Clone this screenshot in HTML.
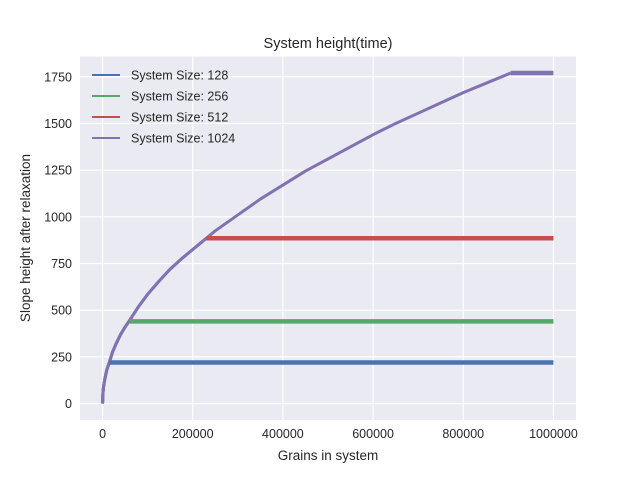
<!DOCTYPE html>
<html><head><meta charset="utf-8"><style>
body{margin:0;background:#fff;}
svg{font-family:"Liberation Sans",Arial,sans-serif;}
</style></head><body>
<svg id="chart" width="640" height="472" viewBox="0 0 640 472" xmlns="http://www.w3.org/2000/svg">
<rect x="80" y="56.6" width="496" height="363.4" fill="#EAEAF2"/>
<g id="grid"></g>
<g id="series"></g>
<g id="ticks"></g>
<text x="328" y="48" font-size="14.5" text-anchor="middle" fill="#262626">System height(time)</text>
<text x="328" y="460" font-size="13.5" text-anchor="middle" fill="#262626">Grains in system</text>
<text transform="translate(30,238) rotate(-90)" font-size="13.5" text-anchor="middle" fill="#262626">Slope height after relaxation</text>
<g id="legend"></g>
</svg>
<script>
const xTicks=[0,200000,400000,600000,800000,1000000];
const yTicks=[0,250,500,750,1000,1250,1500,1750];
const seriesNames=["System Size: 128","System Size: 256","System Size: 512","System Size: 1024"];
const plateauHeights=[220,440,885,1770];
const plateauStarts=[15000,60000,230000,905000];
const growthX=[0,1000,2000,3500,5000,7500,10000,15000,22000,30000,40000,50000,60000,80000,100000,125000,150000,175000,200000,230000,250000,300000,350000,400000,450000,500000,550000,600000,650000,700000,750000,800000,850000,905000];
const growthY=[0,60,85,110,130,160,185,220,275,320,370,410,445,520,585,655,720,775,825,885,925,1010,1095,1170,1245,1310,1375,1440,1500,1555,1610,1665,1715,1770];
const xMax=1000000;
const colors=["#4C72B0","#55A868","#C44E52","#8172B2"];
const L=80,R=576,T=56.6,B=420,xmin=-50000,xmax=1050000,ymin=-88,ymax=1858;
const sx=v=>L+(v-xmin)/(xmax-xmin)*(R-L);
const sy=v=>B-(v-ymin)/(ymax-ymin)*(B-T);
const NS="http://www.w3.org/2000/svg";
function mk(t,a,p){const e=document.createElementNS(NS,t);for(const k in a)e.setAttribute(k,a[k]);p.appendChild(e);return e;}
const grid=document.getElementById('grid'),ticks=document.getElementById('ticks'),ser=document.getElementById('series'),leg=document.getElementById('legend');
xTicks.forEach(v=>{const l=mk('line',{x1:sx(v),x2:sx(v),y1:T,y2:B,stroke:'#fff','stroke-width':1.2},grid);

const t=mk('text',{x:sx(v),y:B+18,'font-size':12.5,'text-anchor':'middle',fill:'#262626'},ticks);t.textContent=v;
});
yTicks.forEach(v=>{const l=mk('line',{x1:L,x2:R,y1:sy(v),y2:sy(v),stroke:'#fff','stroke-width':1.2},grid);

const t=mk('text',{x:L-8,y:sy(v)+4.5,'font-size':12.5,'text-anchor':'end',fill:'#262626'},ticks);t.textContent=v;
});
for(let i=3;i>=0;i--){
  let pts=[];
  for(let j=0;j<growthX.length;j++){if(growthX[j]<=plateauStarts[i])pts.push([growthX[j],growthY[j]]);}
  const g=mk('g',{},ser);
  
  
  const p=mk('polyline',{points:pts.map(q=>sx(q[0])+','+sy(q[1])).join(' '),fill:'none',stroke:colors[3],'stroke-width':3,'stroke-linejoin':'round'},g);
  
  const pl=mk('line',{x1:sx(plateauStarts[i]),x2:sx(xMax),y1:sy(plateauHeights[i]),y2:sy(plateauHeights[i]),stroke:colors[i],'stroke-width':4.5},g);
  
}
seriesNames.forEach((n,i)=>{const y=75+i*21;
const l=mk('line',{x1:92,x2:120,y1:y,y2:y,stroke:colors[i],'stroke-width':2},leg);

const t=mk('text',{x:131,y:y+4.5,'font-size':12.5,fill:'#262626'},leg);t.textContent=n;
});
</script>
</body></html>
